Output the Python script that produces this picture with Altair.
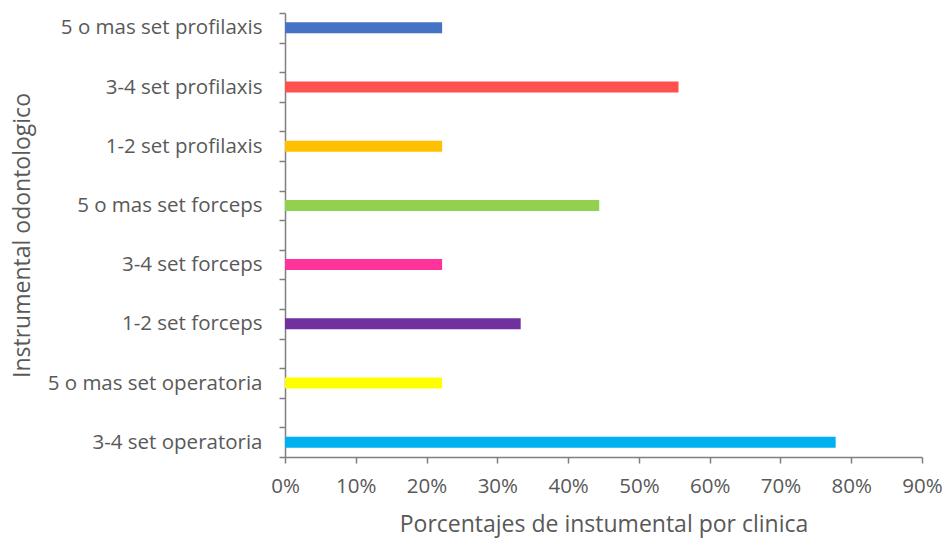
import altair as alt
import pandas as pd

categories = [
    "5 o mas set profilaxis",
    "3-4 set profilaxis",
    "1-2 set profilaxis",
    "5 o mas set forceps",
    "3-4 set forceps",
    "1-2 set forceps",
    "5 o mas set operatoria",
    "3-4 set operatoria",
]
values = [0.222, 0.556, 0.222, 0.444, 0.222, 0.333, 0.222, 0.778]
colors = ["#4472C4", "#FF5050", "#FFC000", "#92D050", "#FF3399", "#7030A0", "#FFFF00", "#00B0F0"]
tick_values = [0, 0.1, 0.2, 0.3, 0.4, 0.5, 0.6, 0.7, 0.8, 0.9]

# spacer categories between the labelled ones (empty rows in the original)
domain = []
for i, c in enumerate(categories):
    domain.append(c)
    if i < len(categories) - 1:
        domain.append("_gap%d" % i)

df = pd.DataFrame({"cat": categories, "val": values})

FONT = "Open Sans"
GRAY = "#595959"
AXIS = "#7f7f7f"

chart = alt.Chart(df).mark_bar(size=11).encode(
    x=alt.X(
        "val:Q",
        scale=alt.Scale(domain=[0, 0.9], nice=False, zero=True),
        axis=alt.Axis(
            values=tick_values,
            format=".0%",
            title="Porcentajes de instumental por clinica",
            grid=False,
            domainColor=AXIS,
            domainWidth=1.5,
            tickColor=AXIS,
            tickWidth=1.5,
            tickSize=6,
            labelFlush=False,
            labelFont=FONT,
            labelFontSize=20.5,
            labelColor=GRAY,
            labelPadding=13,
            titleFont=FONT,
            titleFontSize=23,
            titleFontWeight="normal",
            titleColor=GRAY,
            titlePadding=17,
        ),
    ),
    y=alt.Y(
        "cat:N",
        scale=alt.Scale(domain=domain, paddingInner=0, paddingOuter=0),
        sort=domain,
        axis=alt.Axis(
            title="Instrumental odontologico",
            labelExpr="indexof(datum.label, '_gap') == 0 ? '' : datum.label",
            tickBand="extent",
            domainColor=AXIS,
            domainWidth=1.5,
            tickColor=AXIS,
            tickWidth=1.5,
            tickSize=6,
            labelFont=FONT,
            labelFontSize=20.5,
            labelColor=GRAY,
            labelPadding=17,
            labelLimit=400,
            titleFont=FONT,
            titleFontSize=23,
            titleFontWeight="normal",
            titleColor=GRAY,
            titleX=-263,
            titleY=222,
            titleBaseline="middle",
        ),
    ),
    color=alt.Color(
        "cat:N",
        scale=alt.Scale(domain=categories, range=colors),
        legend=None,
    ),
).properties(
    width=637,
    height=444,
    autosize=alt.AutoSizeParams(type="none"),
    padding={"left": 285, "top": 13, "right": 25, "bottom": 82},
).configure_view(stroke=None)

chart.save("out.html", embed_options={"renderer": "svg", "actions": False})
